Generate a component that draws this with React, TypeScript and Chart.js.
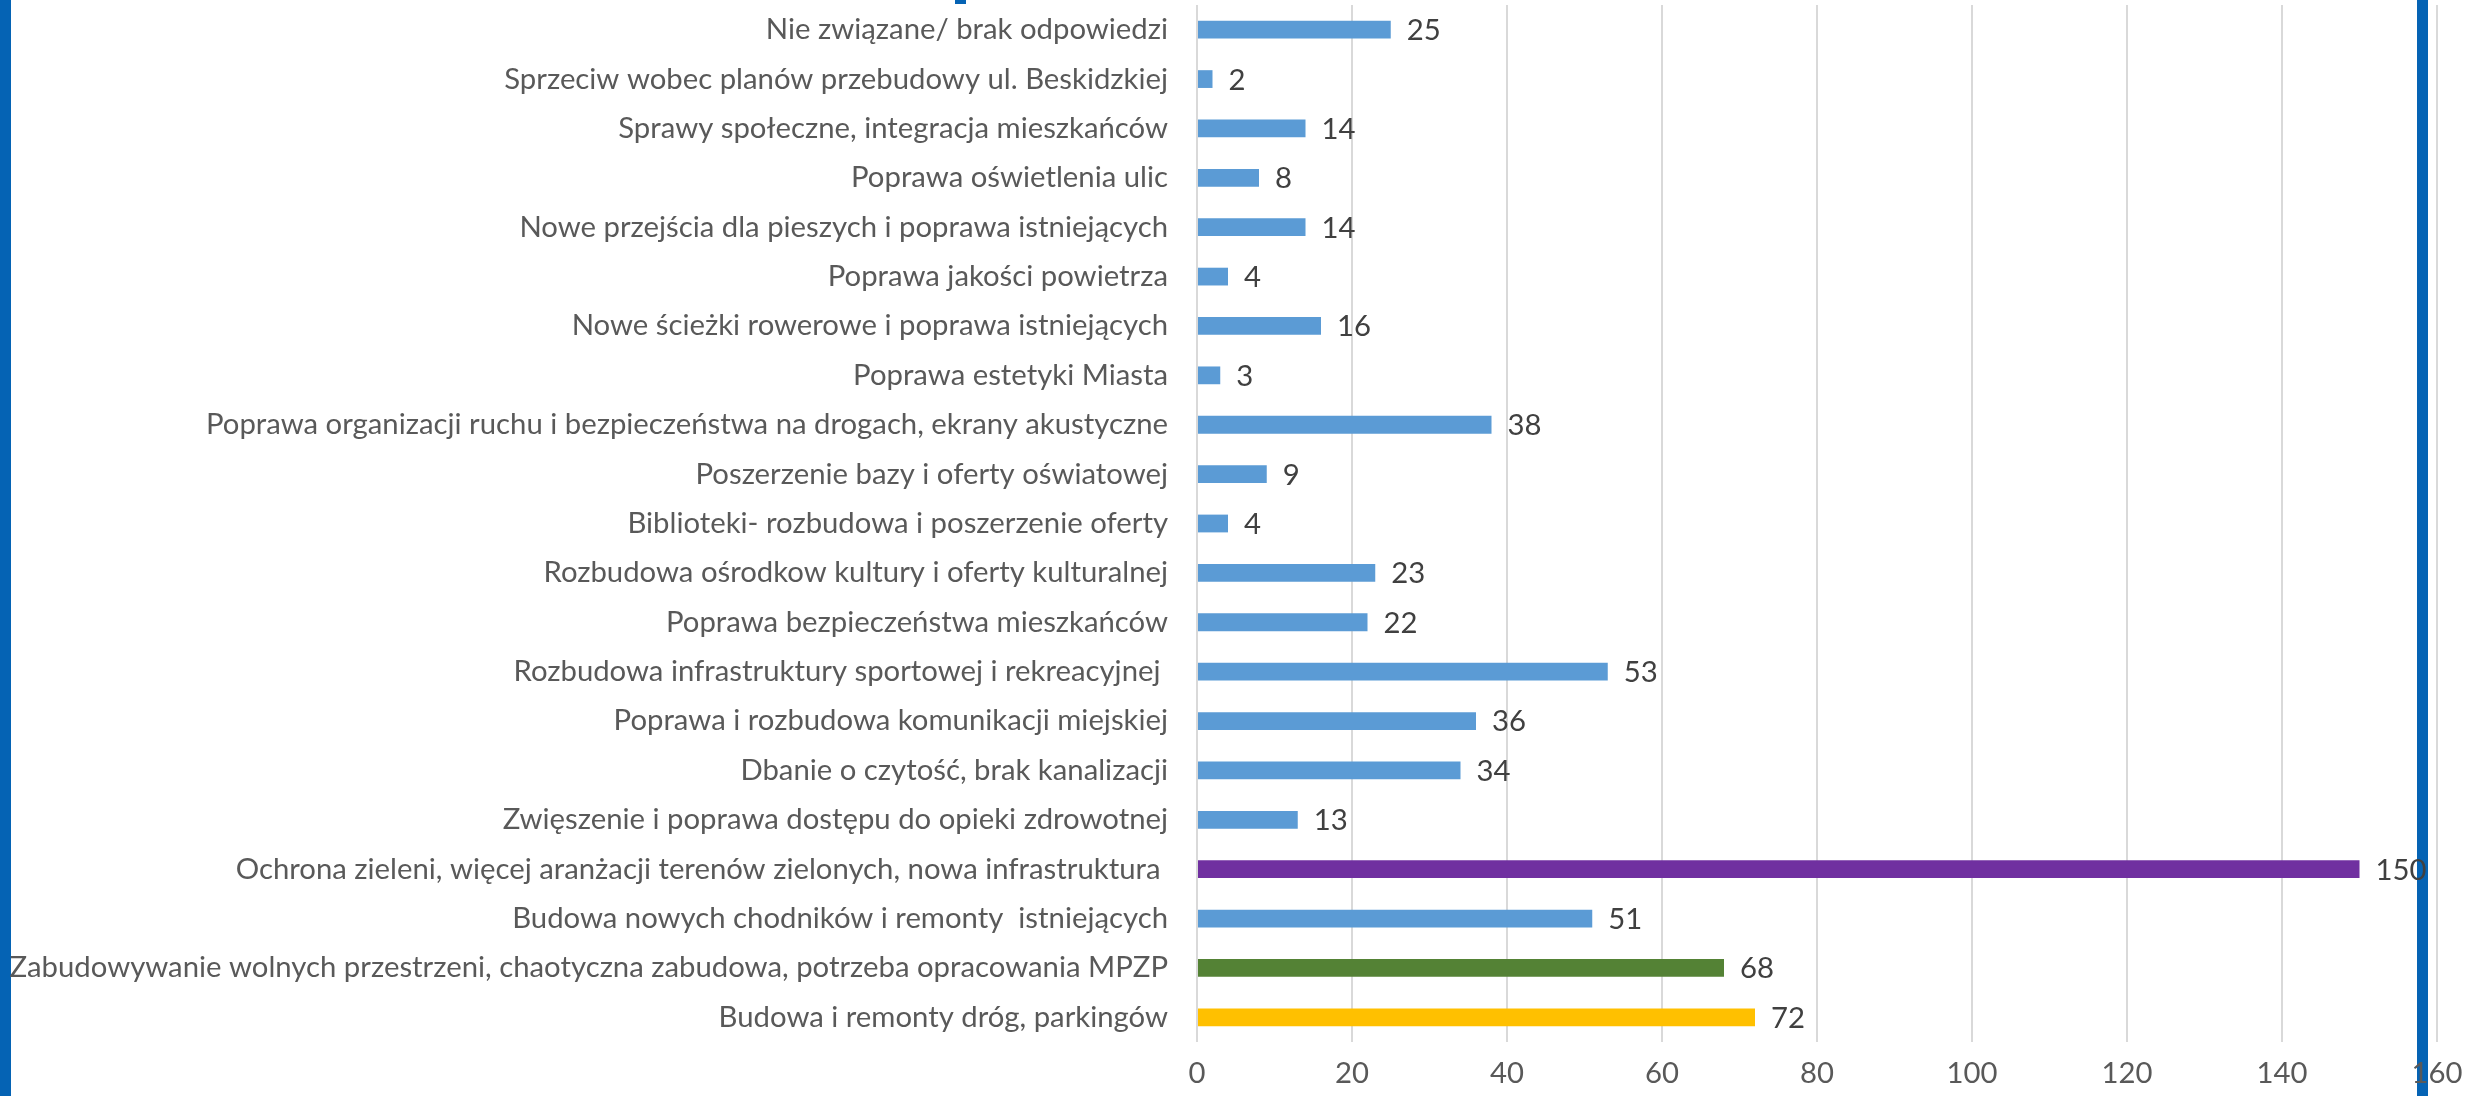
import React, { useEffect, useRef } from "react";
import { Chart, registerables } from "chart.js";

Chart.register(...registerables);

const categories: string[] = [
  "Nie związane/ brak odpowiedzi",
  "Sprzeciw wobec planów przebudowy ul. Beskidzkiej",
  "Sprawy społeczne, integracja mieszkańców",
  "Poprawa oświetlenia ulic",
  "Nowe przejścia dla pieszych i poprawa istniejących",
  "Poprawa jakości powietrza",
  "Nowe ścieżki rowerowe i poprawa istniejących",
  "Poprawa estetyki Miasta",
  "Poprawa organizacji ruchu i bezpieczeństwa na drogach, ekrany akustyczne",
  "Poszerzenie bazy i oferty oświatowej",
  "Biblioteki- rozbudowa i poszerzenie oferty",
  "Rozbudowa ośrodkow kultury i oferty kulturalnej",
  "Poprawa bezpieczeństwa mieszkańców",
  "Rozbudowa infrastruktury sportowej i rekreacyjnej ",
  "Poprawa i rozbudowa komunikacji miejskiej",
  "Dbanie o czytość, brak kanalizacji",
  "Zwięszenie i poprawa dostępu do opieki zdrowotnej",
  "Ochrona zieleni, więcej aranżacji terenów zielonych, nowa infrastruktura ",
  "Budowa nowych chodników i remonty  istniejących",
  "Zabudowywanie wolnych przestrzeni, chaotyczna zabudowa, potrzeba opracowania MPZP",
  "Budowa i remonty dróg, parkingów",
];

const values: number[] = [25, 2, 14, 8, 14, 4, 16, 3, 38, 9, 4, 23, 22, 53, 36, 34, 13, 150, 51, 68, 72];

const BLUE = "#5B9BD5";
const barColors: string[] = [
  BLUE, BLUE, BLUE, BLUE, BLUE, BLUE, BLUE, BLUE, BLUE, BLUE, BLUE,
  BLUE, BLUE, BLUE, BLUE, BLUE, BLUE, "#7030A0", BLUE, "#548235", "#FFC000",
];

const xTicks: number[] = [0, 20, 40, 60, 80, 100, 120, 140, 160];

const FONT = "Lato";
const FS = 29.3;

export default function App() {
  const ref = useRef<HTMLCanvasElement | null>(null);

  useEffect(() => {
    if (!ref.current) return;

    const frame = {
      id: "frame",
      beforeDraw(chart: any) {
        const ctx = chart.ctx;
        ctx.save();
        ctx.fillStyle = "#FFFFFF";
        ctx.fillRect(0, 0, chart.width, chart.height);
        ctx.fillStyle = "#0563B4";
        ctx.fillRect(0, 0, 11, chart.height);
        ctx.fillRect(2417, 0, 11, chart.height);
        ctx.fillRect(955, 0, 11, 4);
        ctx.restore();
      },
    };

    const dataLabels = {
      id: "dataLabels",
      afterDatasetsDraw(chart: any) {
        const ctx = chart.ctx;
        const meta = chart.getDatasetMeta(0);
        ctx.save();
        ctx.font = `${FS}px ${FONT}`;
        ctx.fillStyle = "#404040";
        ctx.textAlign = "left";
        ctx.textBaseline = "middle";
        meta.data.forEach((el: any, i: number) => {
          ctx.fillText(String(values[i]), el.x + 16, el.y + 1);
        });
        ctx.restore();
      },
    };

    const chart = new Chart(ref.current, {
      type: "bar",
      data: {
        labels: categories,
        datasets: [
          {
            data: values,
            backgroundColor: barColors,
            borderWidth: 0,
            categoryPercentage: 1,
            barPercentage: 0.36,
          },
        ],
      },
      options: {
        indexAxis: "y",
        animation: false,
        responsive: false,
        maintainAspectRatio: false,
        layout: { padding: { top: 5, right: 32, bottom: 0, left: 0 } },
        plugins: {
          legend: { display: false },
          tooltip: { enabled: false },
        },
        scales: {
          x: {
            type: "linear",
            min: 0,
            max: 160,
            afterBuildTicks: (scale: any) => {
              scale.ticks = xTicks.map((v) => ({ value: v }));
            },
            afterFit: (scale: any) => {
              scale.height = 54;
              scale.paddingLeft = 0;
              scale.paddingRight = 0;
            },
            grid: { color: "#D9D9D9", lineWidth: 2, drawTicks: false },
            border: { display: false },
            ticks: {
              color: "#595959",
              font: { family: FONT, size: FS },
              padding: 14,
              maxRotation: 0,
              autoSkip: false,
            },
          },
          y: {
            afterFit: (scale: any) => {
              scale.width = 1197;
              scale.paddingTop = 0;
              scale.paddingBottom = 0;
            },
            grid: { display: false, drawTicks: false },
            border: { display: false },
            ticks: {
              color: "#595959",
              font: { family: FONT, size: FS },
              padding: 29,
              autoSkip: false,
            },
          },
        },
      },
      plugins: [frame, dataLabels],
    } as any);

    return () => chart.destroy();
  }, []);

  return (
    <div style={{ position: "fixed", left: 0, top: 0, width: 2469, height: 1096, background: "#fff" }}>
      <canvas ref={ref} width={2469} height={1096} style={{ display: "block", width: 2469, height: 1096 }} />
    </div>
  );
}
